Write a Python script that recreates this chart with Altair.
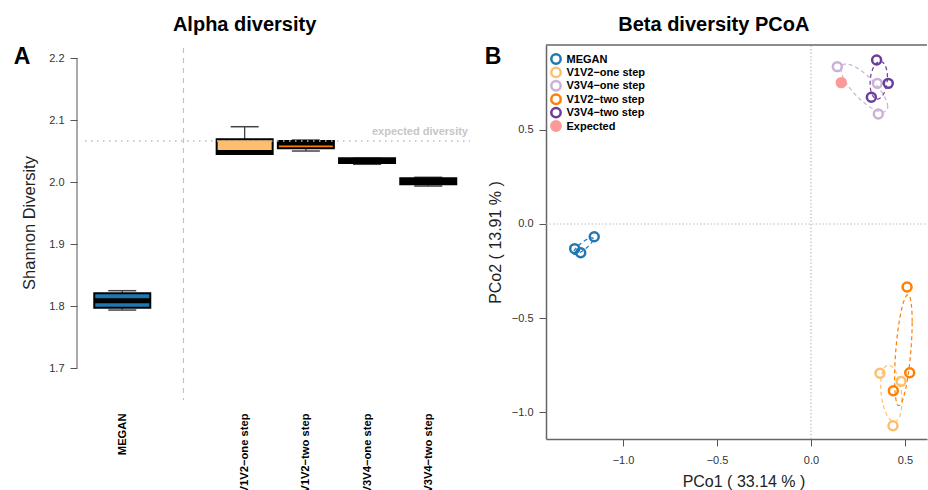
import json

import altair as alt
import numpy as np
import pandas as pd

FONT = "Liberation Sans"

# ---------------- Panel A: Shannon diversity per pipeline ----------------
# slot order on the x axis; the empty slot separates MEGAN from the amplicon runs
x_order = ["MEGAN", "", "V1V2−one step", "V1V2−two step", "V3V4−one step", "V3V4−two step"]
box_groups = ["MEGAN", "V1V2−one step", "V1V2−two step", "V3V4−one step", "V3V4−two step"]
box_colors = ["#1F78B4", "#FDBF6F", "#FF7F00", "#CAB2D6", "#6A3D9A"]
whisker_lo = [1.7935, 2.0452, 2.0500, 2.0286, 1.9935]
box_q1 = [1.7973, 2.0452, 2.0544, 2.0305, 1.9963]
box_median = [1.8085, 2.0476, 2.0630, 2.0345, 2.0010]
box_q3 = [1.8205, 2.0689, 2.0661, 2.0382, 2.0060]
whisker_hi = [1.8247, 2.0892, 2.0677, 2.0382, 2.0076]
expected_shannon = 2.066
shannon_ticks = [1.7, 1.8, 1.9, 2.0, 2.1, 2.2]

# ---------------- Panel B: PCoA coordinates ----------------
pcoa_groups = ["MEGAN", "V1V2−one step", "V3V4−one step", "V1V2−two step", "V3V4−two step", "Expected"]
pcoa_colors = ["#1F78B4", "#FDBF6F", "#CAB2D6", "#FF7F00", "#6A3D9A", "#FB9A99"]
megan_pco1 = [-1.257, -1.225, -1.153]
megan_pco2 = [-0.131, -0.153, -0.068]
v1v2_one_pco1 = [0.367, 0.479, 0.436]
v1v2_one_pco2 = [-0.794, -0.837, -1.073]
v3v4_one_pco1 = [0.140, 0.353, 0.358]
v3v4_one_pco2 = [0.837, 0.748, 0.585]
v1v2_two_pco1 = [0.511, 0.525, 0.438]
v1v2_two_pco2 = [-0.335, -0.791, -0.887]
v3v4_two_pco1 = [0.349, 0.411, 0.321]
v3v4_two_pco2 = [0.872, 0.748, 0.674]
expected_pco1 = [0.161]
expected_pco2 = [0.752]
pcoa_ticks = [-1.0, -0.5, 0.0, 0.5]

panel_titles = ["Alpha diversity", "Beta diversity PCoA"]
panel_tags = ["A", "B"]
axis_titles = ["Shannon Diversity", "PCo1 ( 33.14 % )", "PCo2 ( 13.91 % )"]

# ---------------- layout (pixels inside the shared view) ----------------
W, H = 842, 394
A_W, A_H = 385, 355
B_X0, B_X1 = 461, 842
A_XDOM = [0.391, 6.682]
A_YDOM = [1.6484, 2.2210]
B_XDOM = [-1.4096, 0.617]
B_YDOM = [-1.1436, 0.9521]
BOX_HALF = 0.4575
CAP_HALF = 0.229
LEGEND_X, LEGEND_TOP, LEGEND_STEP = 471, 14, 13.4

# Every layer carries its own (identical) scale per panel; the layers are
# resolved independently so the two panels can live in one view.
a_xscale = alt.Scale(domain=A_XDOM, range=[0, A_W], nice=False, zero=False)
a_yscale = alt.Scale(domain=A_YDOM, range=[A_H, 0], nice=False, zero=False)
b_xscale = alt.Scale(domain=B_XDOM, range=[B_X0, B_X1], nice=False, zero=False)
b_yscale = alt.Scale(domain=B_YDOM, range=[H, 0], nice=False, zero=False)


def ax(f, axis=None):
    return alt.X(f, scale=a_xscale, axis=axis)


def ay(f, axis=None):
    return alt.Y(f, scale=a_yscale, axis=axis)


def bx(f, axis=None):
    return alt.X(f, scale=b_xscale, axis=axis)


def by(f, axis=None):
    return alt.Y(f, scale=b_yscale, axis=axis)


def axd(v):
    return alt.XDatum(v, scale=a_xscale, axis=None)


def ayd(v):
    return alt.YDatum(v, scale=a_yscale, axis=None)


def bxd(v):
    return alt.XDatum(v, scale=b_xscale, axis=None)


def byd(v):
    return alt.YDatum(v, scale=b_yscale, axis=None)


# ---------------- panel A ----------------
box_df = pd.DataFrame({
    "group": box_groups,
    "pos": [x_order.index(g) + 1 for g in box_groups],
    "lo": whisker_lo, "q1": box_q1, "med": box_median, "q3": box_q3, "hi": whisker_hi,
})

slot_labels = json.dumps([""] + x_order, ensure_ascii=False)
a_xaxis = alt.Axis(
    values=[x_order.index(g) + 1 for g in box_groups],
    labelExpr=f"{slot_labels}[datum.value]",
    orient="bottom", offset=A_H - H, domain=False, ticks=False, grid=False,
    labelAngle=270, labelPadding=13, labelFont=FONT, labelFontSize=11.2,
    labelFontWeight="bold", labelColor="black", labelOverlap=False, title=None,
)
a_yaxis = alt.Axis(
    values=shannon_ticks, format=".1f", orient="left", offset=8, domain=False,
    tickSize=7, tickColor="#555", tickWidth=1, grid=False,
    labelFont=FONT, labelFontSize=11, labelColor="#333", labelPadding=6,
    title=axis_titles[0], titleFont=FONT, titleFontSize=16.5,
    titleFontWeight="normal", titleColor="#222", titlePadding=11,
)

box_base = alt.Chart(box_df).transform_calculate(
    xl=f"datum.pos - {BOX_HALF}", xr=f"datum.pos + {BOX_HALF}",
    cl=f"datum.pos - {CAP_HALF}", cr=f"datum.pos + {CAP_HALF}",
)

whisk_up = box_base.mark_rule(color="#333", strokeWidth=1.2).encode(
    x=ax("pos:Q", a_xaxis), y=ay("q3:Q", a_yaxis), y2="hi:Q")
whisk_dn = box_base.mark_rule(color="#333", strokeWidth=1.2).encode(
    x=ax("pos:Q"), y=ay("lo:Q"), y2="q1:Q")
cap_up = box_base.mark_rule(color="#444", strokeWidth=1.5).encode(
    x=ax("cl:Q"), x2="cr:Q", y=ay("hi:Q"))
cap_dn = box_base.mark_rule(color="#444", strokeWidth=1.5).encode(
    x=ax("cl:Q"), x2="cr:Q", y=ay("lo:Q"))
boxes = box_base.mark_bar(stroke="black", strokeWidth=2, opacity=1).encode(
    x=ax("xl:Q"), x2="xr:Q", y=ay("q1:Q"), y2="q3:Q",
    color=alt.Color("group:N", scale=alt.Scale(domain=box_groups, range=box_colors), legend=None),
)
medians = box_base.mark_rule(color="black", strokeWidth=5, strokeCap="butt").encode(
    x=ax("xl:Q"), x2="xr:Q", y=ay("med:Q"))

sep_df = pd.DataFrame({"pos": [x_order.index("") + 1]})
separator = alt.Chart(sep_df).mark_rule(color="#C2C2C2", strokeWidth=1.2, strokeDash=[5, 5]).encode(
    x=ax("pos:Q"), y=ayd(2.2161), y2=alt.Y2Datum(A_YDOM[0]))

exp_df = pd.DataFrame({"v": [expected_shannon]})
exp_line = alt.Chart(exp_df).mark_rule(color="#BBBBBB", strokeWidth=1.5, strokeDash=[1.5, 4.5]).encode(
    y=ay("v:Q"), x=axd(A_XDOM[0]), x2=alt.X2Datum(A_XDOM[1]))
exp_text = alt.Chart(exp_df).mark_text(
    text="expected diversity", align="right", baseline="alphabetic", dx=-2, dy=-6.5,
    font=FONT, fontSize=11, fontWeight="bold", color="#C6C6C6",
).encode(y=ay("v:Q"), x=axd(A_XDOM[1]))

a_axis_line = alt.Chart(exp_df).mark_rule(color="#555", strokeWidth=1).encode(
    x=alt.value(-8), y=ayd(shannon_ticks[0]), y2=alt.Y2Datum(shannon_ticks[-1]))

# ---------------- panel B ----------------
pcoa_x = [megan_pco1, v1v2_one_pco1, v3v4_one_pco1, v1v2_two_pco1, v3v4_two_pco1, expected_pco1]
pcoa_y = [megan_pco2, v1v2_one_pco2, v3v4_one_pco2, v1v2_two_pco2, v3v4_two_pco2, expected_pco2]
pts_df = pd.DataFrame([
    {"group": g, "pco1": x, "pco2": y}
    for g, xs, ys in zip(pcoa_groups, pcoa_x, pcoa_y)
    for x, y in zip(xs, ys)
])


def sd_ellipse(xs, ys, n=120):
    """One-standard-deviation covariance ellipse around a group of samples."""
    pts = np.column_stack([xs, ys])
    centre = pts.mean(axis=0)
    chol = np.linalg.cholesky(np.cov(pts, rowvar=False))
    t = np.linspace(0, 2 * np.pi, n)
    return centre[:, None] + chol @ np.vstack([np.cos(t), np.sin(t)])


group_colour = dict(zip(pcoa_groups, pcoa_colors))
ell_rows = []
for g, xs, ys in zip(pcoa_groups, pcoa_x, pcoa_y):
    if len(xs) < 3:
        continue
    ring = sd_ellipse(xs, ys)
    for i in range(ring.shape[1]):
        ell_rows.append({"group": g, "colour": group_colour[g], "i": i,
                         "pco1": ring[0, i], "pco2": ring[1, i]})
ell_df = pd.DataFrame(ell_rows)

b_xaxis = alt.Axis(
    values=pcoa_ticks, format=".1f", orient="bottom", offset=0,
    domain=True, domainColor="#666", domainWidth=1.5,
    tickSize=7, tickColor="#555", tickWidth=1, grid=False,
    labelFont=FONT, labelFontSize=11, labelColor="#333", labelPadding=8,
    title=axis_titles[1], titleFont=FONT, titleFontSize=16, titleFontWeight="normal",
    titleColor="#222", titleX=658.5, titleY=34, titleBaseline="top",
)
b_yaxis = alt.Axis(
    values=pcoa_ticks, format=".1f", orient="left", offset=-B_X0,
    domain=True, domainColor="#666", domainWidth=1.5,
    tickSize=7, tickColor="#555", tickWidth=1, grid=False,
    labelFont=FONT, labelFontSize=11, labelColor="#333", labelPadding=6,
    title=axis_titles[2], titleFont=FONT, titleFontSize=16, titleFontWeight="normal",
    titleColor="#222", titlePadding=8,
)

stroke_scale = alt.Scale(domain=pcoa_groups, range=pcoa_colors)
fill_scale = alt.Scale(domain=pcoa_groups,
                       range=[c if g == "Expected" else "transparent" for g, c in zip(pcoa_groups, pcoa_colors)])

ref_df = pd.DataFrame({"zero": [0.0]})
zero_v = alt.Chart(ref_df).mark_rule(color="#BDBDBD", strokeWidth=1.2, strokeDash=[1.5, 2]).encode(
    x=bx("zero:Q", b_xaxis), y=byd(B_YDOM[0]), y2=alt.Y2Datum(B_YDOM[1]))
zero_h = alt.Chart(ref_df).mark_rule(color="#BDBDBD", strokeWidth=1.2, strokeDash=[1.5, 2]).encode(
    y=by("zero:Q", b_yaxis), x=bxd(B_XDOM[0]), x2=alt.X2Datum(B_XDOM[1]))
top_frame = alt.Chart(ref_df).mark_rule(color="#666", strokeWidth=1.5).encode(
    x=bxd(B_XDOM[0]), x2=alt.X2Datum(B_XDOM[1]), y=byd(B_YDOM[1]))

# dashed one-sd ellipses, coloured directly so they stay out of the legend
ellipses = alt.Chart(ell_df).mark_line(strokeWidth=1.2, strokeDash=[4, 3]).encode(
    x=bx("pco1:Q"), y=by("pco2:Q"), detail="group:N", order="i:Q",
    stroke=alt.Stroke("colour:N", scale=None),
)
points = alt.Chart(pts_df).mark_point(shape="circle", size=80, strokeWidth=2.5, opacity=1).encode(
    x=bx("pco1:Q"), y=by("pco2:Q"),
    stroke=alt.Stroke("group:N", scale=stroke_scale, legend=None),
    fill=alt.Fill("group:N", scale=fill_scale, legend=None),
)

# legend in the top-left corner of the PCoA panel, one row per group
legend_df = pd.DataFrame({"group": pcoa_groups})
legend_rows = alt.Y(
    "group:N", axis=None,
    scale=alt.Scale(type="point", domain=pcoa_groups, padding=0,
                    range=[LEGEND_TOP, LEGEND_TOP + LEGEND_STEP * (len(pcoa_groups) - 1)]),
)
legend_symbols = alt.Chart(legend_df).mark_point(shape="circle", size=88, strokeWidth=2.5, opacity=1).encode(
    x=alt.value(LEGEND_X), y=legend_rows,
    stroke=alt.Stroke("group:N", scale=stroke_scale, legend=None),
    fill=alt.Fill("group:N", scale=fill_scale, legend=None),
)
legend_labels = alt.Chart(legend_df).mark_text(
    align="left", baseline="middle", dx=10.5, dy=0.5,
    font=FONT, fontSize=11, fontWeight="bold", color="black",
).encode(x=alt.value(LEGEND_X), y=legend_rows, text="group:N")


# ---------------- titles and panel tags ----------------
def label(text, x, y, size):
    return alt.Chart(pd.DataFrame({"t": [text]})).mark_text(
        font=FONT, fontSize=size, fontWeight="bold", color="black",
        align="center", baseline="alphabetic",
    ).encode(text="t:N", x=alt.value(x), y=alt.value(y))


titles = [
    label(panel_titles[0], 159.6, -14, 20),
    label(panel_titles[1], 628.8, -14, 20),
    label(panel_tags[0], -63, 18.5, 23),
    label(panel_tags[1], 408, 18.5, 23),
]

chart = alt.layer(
    separator, whisk_up, whisk_dn, cap_up, cap_dn, boxes, medians,
    exp_line, exp_text, a_axis_line,
    zero_v, zero_h, top_frame, ellipses, points,
    legend_symbols, legend_labels,
    *titles,
).resolve_scale(
    x="independent", y="independent"
).properties(
    width=W, height=H,
    autosize=alt.AutoSizeParams(type="none"),
    padding={"left": 85, "top": 45, "right": 1, "bottom": 51},
).configure(font=FONT, view=alt.ViewConfig(stroke=None))

chart.save("out.html", embed_options={"renderer": "svg", "actions": False})
